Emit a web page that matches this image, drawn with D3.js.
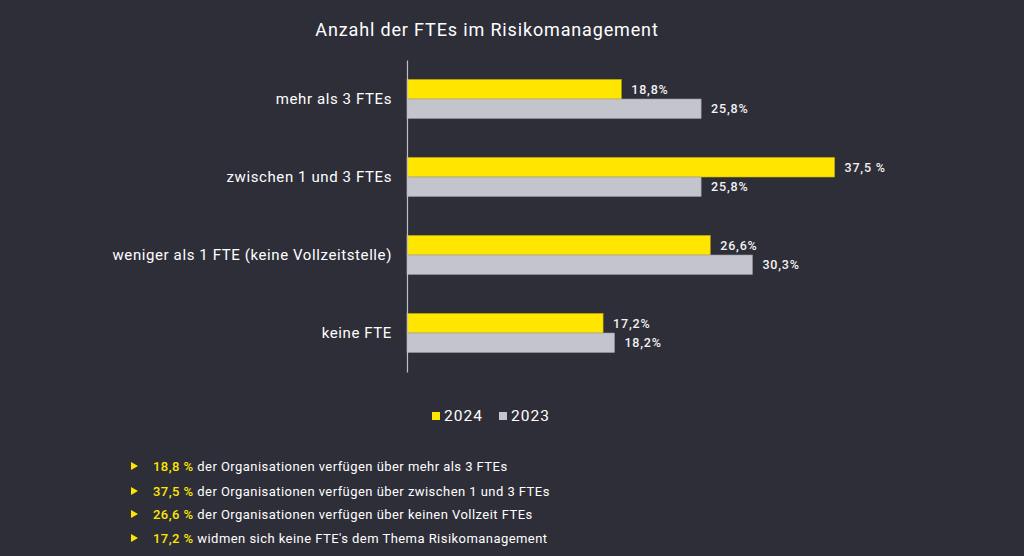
<!DOCTYPE html>
<html><head><meta charset="utf-8">
<script src="https://cdn.jsdelivr.net/npm/d3@7/dist/d3.min.js"></script>
<style>
html,body{margin:0;padding:0;background:#2e2e38;}
svg{display:block;font-family:Roboto,"Liberation Sans",sans-serif;}
</style></head><body>
<svg id="c" width="1024" height="556"></svg>
<script>
const categories = ["mehr als 3 FTEs","zwischen 1 und 3 FTEs","weniger als 1 FTE (keine Vollzeitstelle)","keine FTE"];
const series = ["2024","2023"];
const values2024 = [18.8, 37.5, 26.6, 17.2];
const values2023 = [25.8, 25.8, 30.3, 18.2];
const labels2024 = ["18,8%","37,5 %","26,6%","17,2%"];
const labels2023 = ["25,8%","25,8%","30,3%","18,2%"];
const bulletValues = ["18,8 %","37,5 %","26,6 %","17,2 %"];
const bulletTexts = [
  "der Organisationen verfügen über mehr als 3 FTEs",
  "der Organisationen verfügen über zwischen 1 und 3 FTEs",
  "der Organisationen verfügen über keinen Vollzeit FTEs",
  "widmen sich keine FTE's dem Thema Risikomanagement"
];
const title = "Anzahl der FTEs im Risikomanagement";

const colors = {"2024":"#ffe600","2023":"#c4c4cd"};
const svg = d3.select("#c");

const x0 = 407;
const x = d3.scaleLinear().domain([0, 10]).range([x0, x0 + 114]);
const y = d3.scaleBand().domain(categories).range([60, 372]).paddingInner(0.5).paddingOuter(0.25);
const ys = d3.scaleBand().domain(series).range([0, y.bandwidth()]);

svg.append("text").attr("x", 487).attr("y", 36).attr("text-anchor","middle")
  .attr("fill","#fff").attr("font-size",18).attr("letter-spacing","0.85px").text(title);

const rows = categories.map((c,i)=>({c, v:[values2024[i], values2023[i]], l:[labels2024[i], labels2023[i]]}));
const g = svg.append("g");
rows.forEach(r=>{
  series.forEach((s,j)=>{
    const yy = y(r.c) + ys(s);
    g.append("rect").attr("x", x(0)).attr("y", yy).attr("width", x(r.v[j]) - x(0)).attr("height", ys.bandwidth())
      .attr("fill", colors[s]).attr("stroke", j===0 ? "#c9b400" : "#9a9aa2").attr("stroke-width",0.6);
    g.append("text").attr("x", x(r.v[j]) + 10).attr("y", yy + ys.bandwidth()/2 + 4.5)
      .attr("fill","#f2f2f2").attr("font-size",12.5).attr("font-weight",500).attr("letter-spacing","0.8px").text(r.l[j]);
  });
});

// axis
const axis = d3.axisLeft(y).tickSize(0).tickPadding(15);
const ag = svg.append("g").attr("transform",`translate(${x0},0)`).call(axis);
ag.select(".domain").attr("stroke","#bfbfc6").attr("stroke-width",1.2);
ag.selectAll("text").attr("fill","#fff").attr("font-size",15).attr("font-family","Roboto").attr("letter-spacing","0.6px");

// legend
const lg = svg.append("g");
const legendX = [432, 499];
series.forEach((s,i)=>{
  lg.append("rect").attr("x", legendX[i]).attr("y", 412).attr("width",8).attr("height",8).attr("fill",colors[s]);
  lg.append("text").attr("x", legendX[i]+12).attr("y", 421).attr("fill","#fff").attr("font-size",15.5).attr("letter-spacing","1px").text(s);
});

// bullets
const by = [466, 491, 514, 538];
bulletTexts.forEach((t,i)=>{
  const cy = by[i];
  svg.append("path").attr("d", `M131,${cy-4}L138,${cy}L131,${cy+4}Z`).attr("fill","#ffe600");
  const tx = svg.append("text").attr("x",153).attr("y",cy+4.5).attr("font-size",13).attr("letter-spacing","0.45px");
  tx.append("tspan").attr("fill","#ffe600").attr("font-weight",500).text(bulletValues[i] + " ");
  tx.append("tspan").attr("fill","#fff").attr("font-weight",400).text(t);
});
</script>
</body></html>
